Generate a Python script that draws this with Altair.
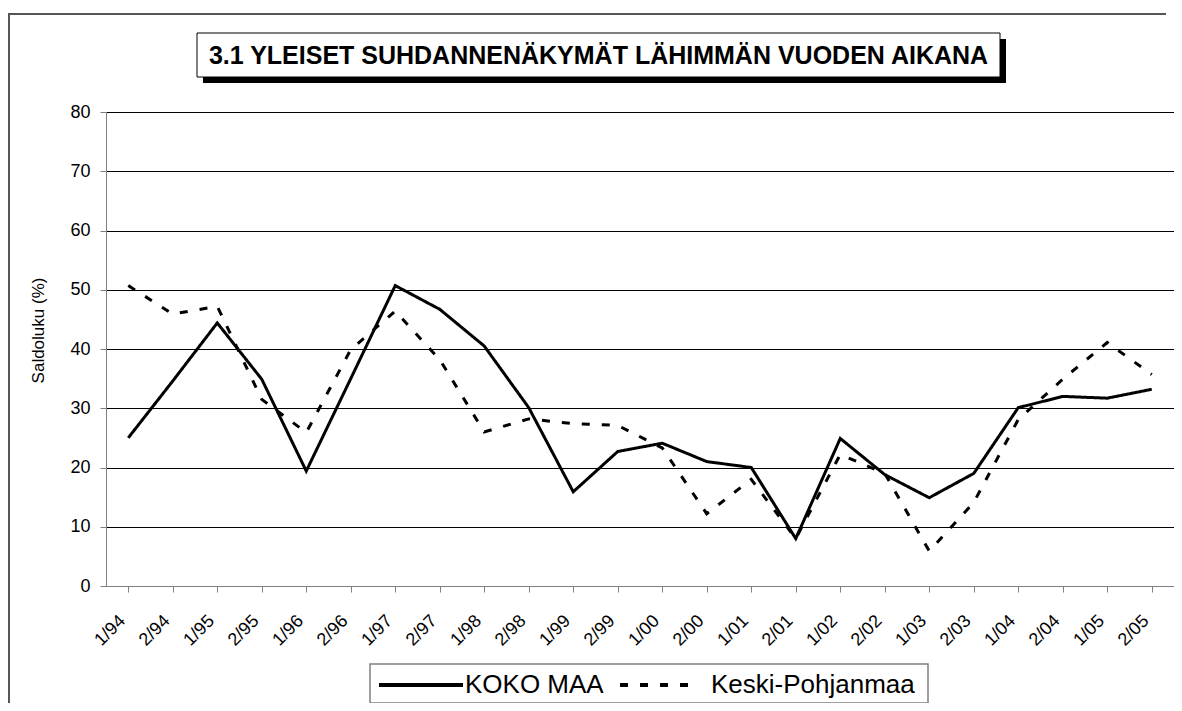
import altair as alt
import pandas as pd

categories = ["1/94", "2/94", "1/95", "2/95", "1/96", "2/96", "1/97", "2/97",
              "1/98", "2/98", "1/99", "2/99", "1/00", "2/00", "1/01", "2/01",
              "1/02", "2/02", "1/03", "2/03", "1/04", "2/04", "1/05", "2/05"]
koko_maa = [25.0, 34.6, 44.4, 34.9, 19.4, 35.0, 50.7, 46.7, 40.5, 30.1, 15.9, 22.7,
            24.1, 21.0, 20.0, 8.0, 24.9, 18.8, 14.9, 19.0, 30.1, 32.0, 31.7, 33.2]
keski_pohjanmaa = [50.7, 45.9, 47.2, 31.5, 25.9, 39.9, 46.4, 38.2, 26.0, 28.2, 27.4, 27.1,
                   23.3, 12.2, 18.0, 8.0, 22.2, 19.0, 5.9, 14.1, 28.1, 34.9, 41.1, 35.7]
series_names = ["KOKO MAA", "Keski-Pohjanmaa"]
title_text = "3.1 YLEISET SUHDANNENÄKYMÄT LÄHIMMÄN VUODEN AIKANA"
y_title = "Saldoluku (%)"
y_ticks = [0, 10, 20, 30, 40, 50, 60, 70, 80]

rows = []
for name, vals in zip(series_names, [koko_maa, keski_pohjanmaa]):
    for i, (c, v) in enumerate(zip(categories, vals)):
        rows.append({"cat": c, "value": v, "series": name, "order": i})
df = pd.DataFrame(rows)

FONT = "Liberation Sans"
W, H = 1068, 474
DASH = [8, 12]

lines = alt.Chart(df).mark_line(color="black", strokeWidth=3, strokeCap="butt",
                                strokeJoin="miter").encode(
    x=alt.X("cat:O", sort=categories, scale=alt.Scale(paddingInner=0, paddingOuter=0),
            axis=alt.Axis(title=None, labelAngle=315, labelAlign="right", labelBaseline="middle",
                          labelFontSize=18, labelFont=FONT, labelColor="black",
                          labelPadding=26, labelOffset=-6, bandPosition=0, tickSize=6,
                          tickColor="#808080", domainColor="#808080", grid=False)),
    y=alt.Y("value:Q", scale=alt.Scale(domain=[0, 80], nice=False),
            axis=alt.Axis(title=y_title, values=y_ticks, labelFontSize=18, labelFont=FONT,
                          labelColor="black", labelPadding=10, tickSize=6,
                          tickColor="#808080", domainColor="#808080",
                          grid=True, gridColor="black", gridWidth=1,
                          titleFont=FONT, titleFontSize=17, titleFontWeight="normal",
                          titleColor="black", titleAngle=270, titleX=-68, titleY=218,
                          titleAlign="center", titleBaseline="middle")),
    strokeDash=alt.StrokeDash("series:N",
                              scale=alt.Scale(domain=series_names, range=[[1, 0], DASH]),
                              legend=None),
    order="order:Q",
)

one = pd.DataFrame({"k": [0]})
frame_left = alt.Chart(one).mark_rect(color="#555555").encode(
    x=alt.value(-98), x2=alt.value(-96), y=alt.value(-99), y2=alt.value(700))
frame_top = alt.Chart(one).mark_rect(color="#555555").encode(
    x=alt.value(-98), x2=alt.value(1060), y=alt.value(-99), y2=alt.value(-97))
shadow = alt.Chart(one).mark_rect(color="black").encode(
    x=alt.value(97), x2=alt.value(900), y=alt.value(-73), y2=alt.value(-29))
box = alt.Chart(one).mark_rect(fill="white", stroke="black", strokeWidth=1).encode(
    x=alt.value(91), x2=alt.value(894), y=alt.value(-79), y2=alt.value(-35))
title = alt.Chart(one).mark_text(text=title_text, font=FONT, fontSize=25, fontWeight="bold",
                                 color="black", align="center", baseline="middle").encode(
    x=alt.value(492.5), y=alt.value(-56))

# legend (built by hand so its box matches the reference)
leg_box = alt.Chart(one).mark_rect(fill="white", stroke="#808080", strokeWidth=1.5).encode(
    x=alt.value(264), x2=alt.value(822), y=alt.value(552), y2=alt.value(591))
leg_solid = alt.Chart(one).mark_rule(color="black", strokeWidth=4, strokeCap="butt").encode(
    x=alt.value(273), x2=alt.value(357), y=alt.value(573))
leg_dash = alt.Chart(one).mark_rule(color="black", strokeWidth=4, strokeCap="butt",
                                    strokeDash=DASH).encode(
    x=alt.value(514), x2=alt.value(594), y=alt.value(573))
leg_t1 = alt.Chart(one).mark_text(text=series_names[0], font=FONT, fontSize=26, color="black",
                                  align="left", baseline="middle").encode(
    x=alt.value(359), y=alt.value(573))
leg_t2 = alt.Chart(one).mark_text(text=series_names[1], font=FONT, fontSize=26, color="black",
                                  align="left", baseline="middle").encode(
    x=alt.value(605), y=alt.value(573))

chart = alt.layer(frame_left, frame_top, lines, shadow, box, title,
                  leg_box, leg_solid, leg_dash, leg_t1, leg_t2).properties(
    width=W, height=H,
    autosize=alt.AutoSizeParams(type="none"),
    padding={"left": 98, "top": 104, "right": 0, "bottom": 117},
).configure_view(stroke=None)

chart.save("out.html", embed_options={"renderer": "svg", "actions": False})
